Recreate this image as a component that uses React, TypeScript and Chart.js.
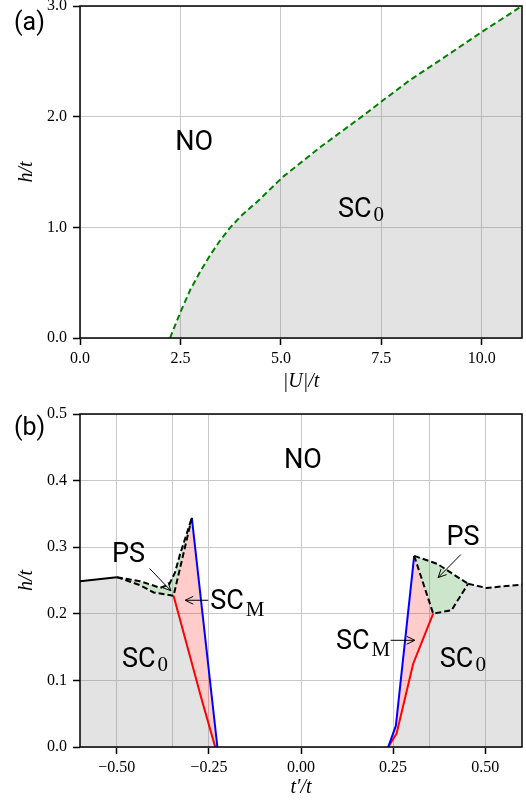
import React, { useEffect, useRef } from 'react';
import { Chart, registerables } from 'chart.js';

Chart.register(...registerables);

// ---------------- Panel (a) data ----------------
const aUTicks = [0, 2.5, 5, 7.5, 10];
const aHTicks = [0, 1, 2, 3];
const aU = [2.24, 2.5, 2.75, 3.0, 3.25, 3.49, 3.73, 4.0, 4.48, 5.05, 6.0, 7.05, 7.55, 8.21, 9.0, 10.06, 11.0];
const aH = [0, 0.235, 0.44, 0.605, 0.755, 0.883, 0.995, 1.1, 1.255, 1.456, 1.73, 2.01, 2.15, 2.33, 2.52, 2.78, 3.0];

// ---------------- Panel (b) data ----------------
const bTTicks = [-0.5, -0.25, 0, 0.25, 0.5];
const bExtraGrid = [-0.35, 0.35];
const bHTicks = [0, 0.1, 0.2, 0.3, 0.4, 0.5];

const leftSolidT = [-0.6, -0.5];
const leftSolidH = [0.249, 0.255];
const leftPsUpperT = [-0.5, -0.437, -0.382, -0.358, -0.342, -0.328, -0.2964];
const leftPsUpperH = [0.255, 0.249, 0.239, 0.244, 0.262, 0.29, 0.344];
const leftPsLowerT = [-0.5, -0.437, -0.4, -0.346, -0.2964];
const leftPsLowerH = [0.255, 0.243, 0.232, 0.227, 0.344];
const leftRedT = [-0.346, -0.27, -0.233];
const leftRedH = [0.227, 0.072, 0];
const leftBlueT = [-0.2964, -0.227];
const leftBlueH = [0.344, 0];

const rightBlueT = [0.2368, 0.2576, 0.3073];
const rightBlueH = [0, 0.032, 0.287];
const rightRedT = [0.2368, 0.2594, 0.3046, 0.3588];
const rightRedH = [0, 0.02, 0.125, 0.2003];
const rightPsUpperT = [0.3073, 0.37, 0.4536];
const rightPsUpperH = [0.287, 0.275, 0.245];
const rightPsLowerT = [0.3073, 0.3588, 0.4086, 0.4536];
const rightPsLowerH = [0.287, 0.2003, 0.2053, 0.245];
const rightTailT = [0.4536, 0.5035, 0.6];
const rightTailH = [0.245, 0.2388, 0.2439];

const bTMin = -0.6;
const bTMax = 0.6;

// annotations (data coordinates)
const aLabels = [
  { text: 'NO', x: 2.84, y: 1.697, center: true },
  { text: 'SC', sub: '0', x: 6.42, y: 1.091 },
];
const bLabels = [
  { text: 'NO', x: 0.005, y: 0.419, center: true },
  { text: 'PS', x: -0.5133, y: 0.278 },
  { text: 'SC', sub: 'M', x: -0.2467, y: 0.2078 },
  { text: 'SC', sub: '0', x: -0.4862, y: 0.12 },
  { text: 'PS', x: 0.395, y: 0.303 },
  { text: 'SC', sub: 'M', x: 0.0949, y: 0.1477 },
  { text: 'SC', sub: '0', x: 0.3769, y: 0.12 },
];
const bArrowFromT = [-0.411, -0.252, 0.434, 0.2432];
const bArrowFromH = [0.268, 0.2203, 0.289, 0.1602];
const bArrowToT = [-0.3533, -0.3145, 0.3723, 0.3091];
const bArrowToH = [0.2346, 0.2203, 0.2544, 0.1602];

// ---------------- helpers ----------------
type P = { x: number; y: number };
const pts = (ts: number[], hs: number[]): P[] => ts.map((t, i) => ({ x: t, y: hs[i] }));
const rev = (a: P[]) => a.slice().reverse();

const GREY = 'rgba(128,128,128,0.22)';
const PINK = 'rgba(255,0,0,0.2)';
const GREEN = 'rgba(0,128,0,0.2)';

const lineDs = (data: P[], color: string, dashed = false) => ({
  data,
  borderColor: color,
  borderWidth: 2,
  borderDash: dashed ? [6, 3] : [],
  pointRadius: 0,
  fill: false,
  tension: 0,
  order: 0,
});
const shapeDs = (data: P[], color: string) => ({
  data,
  borderColor: 'rgba(0,0,0,0)',
  borderWidth: 0,
  backgroundColor: color,
  fill: 'shape',
  pointRadius: 0,
  tension: 0,
  order: 10,
});

const tickFont = { family: '"Liberation Serif", serif', size: 16 };
const titleFont = { family: '"Liberation Serif", serif', size: 20, style: 'italic' as const };
const GRID = '#c8c8c8';

const fmtMinus = (s: string) => s.replace('-', '\u2212');

function drawArrow(ctx: CanvasRenderingContext2D, x1: number, y1: number, x2: number, y2: number) {
  const ang = Math.atan2(y2 - y1, x2 - x1);
  const L = 9;
  const w = 0.45;
  ctx.beginPath();
  ctx.moveTo(x1, y1);
  ctx.lineTo(x2, y2);
  ctx.moveTo(x2 - L * Math.cos(ang - w), y2 - L * Math.sin(ang - w));
  ctx.lineTo(x2, y2);
  ctx.lineTo(x2 - L * Math.cos(ang + w), y2 - L * Math.sin(ang + w));
  ctx.stroke();
}

function makePlugin(letter: string, letterY: number, labels: any[], arrows: number[][] | null) {
  return {
    id: 'decor',
    afterDatasetsDraw(chart: any) {
      const { ctx, chartArea: a } = chart;
      const xs = chart.scales.x;
      const ys = chart.scales.y;
      ctx.save();
      ctx.strokeStyle = '#000';
      ctx.lineWidth = 1.5;
      ctx.strokeRect(a.left, a.top, a.right - a.left, a.bottom - a.top);
      if (arrows) {
        ctx.lineWidth = 1;
        ctx.strokeStyle = '#000';
        const [ft, fh, tt, th] = arrows;
        for (let i = 0; i < ft.length; i++) {
          drawArrow(
            ctx,
            xs.getPixelForValue(ft[i]),
            ys.getPixelForValue(fh[i]),
            xs.getPixelForValue(tt[i]),
            ys.getPixelForValue(th[i])
          );
        }
      }
      ctx.fillStyle = '#000';
      ctx.textBaseline = 'alphabetic';
      for (const lab of labels) {
        const px = xs.getPixelForValue(lab.x);
        const py = ys.getPixelForValue(lab.y);
        ctx.font = '27px Roboto';
        ctx.textAlign = lab.center ? 'center' : 'left';
        ctx.fillText(lab.text, px, py);
        if (lab.sub) {
          const w = ctx.measureText(lab.text).width;
          ctx.font = '21px "Liberation Serif"';
          ctx.textAlign = 'left';
          ctx.fillText(lab.sub, px + w + 2, py + (lab.sub === 'M' ? 7.5 : 3.5));
        }
      }
      ctx.font = '25px Roboto';
      ctx.textAlign = 'left';
      ctx.fillText(letter, 14, letterY);
      ctx.restore();
    },
  };
}

function baseScales(opts: {
  xMin: number; xMax: number; xTicks: number[]; xExtra?: number[]; xDigits: number; xTitle: string; xHeight: number; xTitlePad: number;
  yMin: number; yMax: number; yTicks: number[]; yDigits: number;
}) {
  const extra = opts.xExtra || [];
  const isExtra = (v: number) => extra.some((e) => Math.abs(e - v) < 1e-9);
  return {
    x: {
      type: 'linear',
      min: opts.xMin,
      max: opts.xMax,
      afterBuildTicks: (s: any) => {
        s.ticks = [...opts.xTicks, ...extra].sort((p, q) => p - q).map((v) => ({ value: v }));
      },
      afterFit: (s: any) => {
        s.height = opts.xHeight;
        s.paddingLeft = 0;
        s.paddingRight = 0;
      },
      ticks: {
        callback: (v: any) => (isExtra(Number(v)) ? '' : fmtMinus(Number(v).toFixed(opts.xDigits))),
        font: tickFont,
        color: '#000',
        padding: 4,
        autoSkip: false,
        maxRotation: 0,
        minRotation: 0,
      },
      grid: {
        color: GRID,
        lineWidth: 1,
        tickLength: 7,
        tickWidth: 1.5,
        tickColor: (c: any) => (c.tick && isExtra(c.tick.value) ? 'rgba(0,0,0,0)' : '#000'),
      },
      border: { display: false },
      title: { display: true, text: opts.xTitle, font: titleFont, color: '#000', padding: { top: 0, bottom: opts.xTitlePad } },
    },
    y: {
      type: 'linear',
      min: opts.yMin,
      max: opts.yMax,
      afterBuildTicks: (s: any) => {
        s.ticks = opts.yTicks.map((v) => ({ value: v }));
      },
      afterFit: (s: any) => {
        s.width = 80;
        s.paddingTop = 0;
        s.paddingBottom = 0;
      },
      ticks: {
        callback: (v: any) => Number(v).toFixed(opts.yDigits),
        font: tickFont,
        color: '#000',
        padding: 6,
        autoSkip: false,
      },
      grid: { color: GRID, lineWidth: 1, tickLength: 7, tickWidth: 1.5, tickColor: '#000' },
      border: { display: false },
      title: { display: true, text: 'h/t', font: titleFont, color: '#000', padding: { top: 15, bottom: 0 } },
    },
  };
}

export default function App() {
  const refA = useRef<HTMLCanvasElement>(null);
  const refB = useRef<HTMLCanvasElement>(null);

  useEffect(() => {
    const curveA = pts(aU, aH);
    const chartA = new Chart(refA.current as HTMLCanvasElement, {
      type: 'line',
      data: {
        datasets: [
          {
            data: curveA,
            borderColor: '#008000',
            borderWidth: 2,
            borderDash: [6, 3.5],
            backgroundColor: GREY,
            fill: 'origin',
            pointRadius: 0,
            tension: 0,
          } as any,
        ],
      },
      options: {
        responsive: false,
        devicePixelRatio: 1,
        animation: false,
        events: [],
        layout: { padding: { top: 6, right: 4, left: 0, bottom: 0 } },
        plugins: { legend: { display: false }, tooltip: { enabled: false } },
        scales: baseScales({
          xMin: 0, xMax: 11, xTicks: aUTicks, xDigits: 1, xTitle: '|U|/t', xHeight: 62, xTitlePad: 6,
          yMin: 0, yMax: 3, yTicks: aHTicks, yDigits: 1,
        }) as any,
      },
      plugins: [makePlugin('(a)', 30, aLabels, null)],
    });

    const lSolid = pts(leftSolidT, leftSolidH);
    const lUp = pts(leftPsUpperT, leftPsUpperH);
    const lLow = pts(leftPsLowerT, leftPsLowerH);
    const lRed = pts(leftRedT, leftRedH);
    const lBlue = pts(leftBlueT, leftBlueH);
    const rBlue = pts(rightBlueT, rightBlueH);
    const rRed = pts(rightRedT, rightRedH);
    const rUp = pts(rightPsUpperT, rightPsUpperH);
    const rLow = pts(rightPsLowerT, rightPsLowerH);
    const rTail = pts(rightTailT, rightTailH);

    const leftGrey = [{ x: bTMin, y: 0 }, ...lSolid, ...lLow.slice(1, -1), ...lRed.slice(1)];
    const leftPink = [...lBlue, ...rev(lRed)];
    const leftGreen = [...lUp, ...rev(lLow).slice(1)];
    const rightGrey = [...rRed, ...rLow.slice(2), ...rTail.slice(1), { x: bTMax, y: 0 }];
    const rightPink = [...rBlue, ...rev(rRed)];
    const rightGreen = [...rUp, ...rev(rLow).slice(1)];

    const chartB = new Chart(refB.current as HTMLCanvasElement, {
      type: 'line',
      data: {
        datasets: [
          lineDs(lUp, '#000', true),
          lineDs(lLow, '#000', true),
          lineDs(rUp, '#000', true),
          lineDs(rLow, '#000', true),
          lineDs(rTail, '#000', true),
          lineDs(lSolid, '#000'),
          lineDs(lBlue, '#0000ff'),
          lineDs(lRed, '#ff0000'),
          lineDs(rBlue, '#0000ff'),
          lineDs(rRed, '#ff0000'),
          shapeDs(leftGrey, GREY),
          shapeDs(leftPink, PINK),
          shapeDs(leftGreen, GREEN),
          shapeDs(rightGrey, GREY),
          shapeDs(rightPink, PINK),
          shapeDs(rightGreen, GREEN),
        ] as any,
      },
      options: {
        responsive: false,
        devicePixelRatio: 1,
        animation: false,
        events: [],
        layout: { padding: { top: 14, right: 4, left: 0, bottom: 0 } },
        plugins: { legend: { display: false }, tooltip: { enabled: false } },
        scales: baseScales({
          xMin: bTMin, xMax: bTMax, xTicks: bTTicks, xExtra: bExtraGrid, xDigits: 2, xTitle: 't\u2032/t', xHeight: 54, xTitlePad: 1,
          yMin: 0, yMax: 0.5, yTicks: bHTicks, yDigits: 1,
        }) as any,
      },
      plugins: [makePlugin('(b)', 35, bLabels, [bArrowFromT, bArrowFromH, bArrowToT, bArrowToH])],
    });

    return () => {
      chartA.destroy();
      chartB.destroy();
    };
  }, []);

  return (
    <div style={{ position: 'absolute', left: 0, top: 0, width: 526, height: 801, background: '#fff' }}>
      <canvas
        ref={refA}
        width={526}
        height={400}
        style={{ position: 'absolute', left: 0, top: 0, width: 526, height: 400, display: 'block' }}
      />
      <canvas
        ref={refB}
        width={526}
        height={401}
        style={{ position: 'absolute', left: 0, top: 400, width: 526, height: 401, display: 'block' }}
      />
    </div>
  );
}
